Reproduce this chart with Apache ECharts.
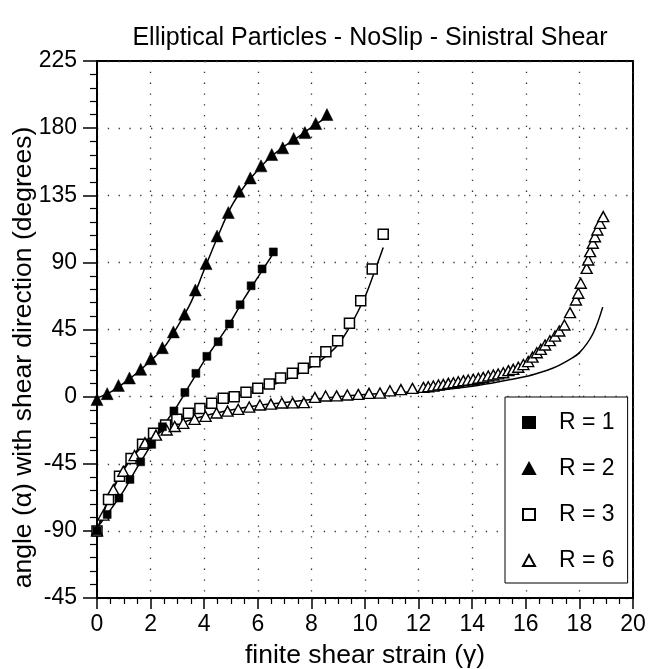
<!DOCTYPE html>
<html><head><meta charset="utf-8">
<script src="https://cdn.jsdelivr.net/npm/echarts@6/dist/echarts.min.js"></script>
<style>html,body{margin:0;padding:0;background:#fff}#c{width:648px;height:669px}</style>
</head><body><div id="c"></div>
<script>
// ---- data ----
const titleText = 'Elliptical Particles - NoSlip - Sinistral Shear';
const xName = 'finite shear strain (\u03b3)';
const yName = 'angle (\u03b1) with shear direction (degrees)';
const yTickValues = [-135, -90, -45, 0, 45, 90, 135, 180, 225];
const yTickLabels = ['-45', '-90', '-45', '0', '45', '90', '135', '180', '225'];
const legendNames = ['R = 1', 'R = 2', 'R = 3', 'R = 6'];

// R = 1 (filled squares)
const r1X = [0, 0.38, 0.82, 1.23, 1.63, 2.04, 2.44, 2.87, 3.28, 3.69, 4.10, 4.52, 4.94, 5.34, 5.75, 6.16, 6.58];
const r1Y = [-90, -79, -68, -55.5, -43.7, -32, -20.2, -9.6, 2.8, 15.6, 27, 36.8, 48.7, 61.6, 74.3, 85.6, 97];
// R = 2 (filled triangles)
const r2X = [0, 0.38, 0.80, 1.21, 1.63, 2.01, 2.44, 2.85, 3.27, 3.67, 4.07, 4.48, 4.90, 5.30, 5.72, 6.12, 6.52, 6.93, 7.34, 7.76, 8.16, 8.58];
const r2Y = [-2, 2, 7.5, 12.5, 18.3, 25.4, 32.8, 43.4, 55.3, 71.5, 89.2, 107.7, 123.4, 137.7, 146.6, 154.7, 162.3, 166.8, 173, 177, 183.1, 189.1];
// R = 3 (open squares)
const r3X = [0, 0.43, 0.84, 1.27, 1.70, 2.11, 2.56, 2.98, 3.41, 3.84, 4.28, 4.71, 5.12, 5.56, 6.00, 6.43, 6.85, 7.29, 7.70, 8.13, 8.54, 8.98, 9.42, 9.84, 10.27, 10.68];
const r3Y = [-90, -69, -53.3, -41.4, -32, -24.6, -19, -15.2, -11.2, -7.9, -4.5, -1.1, 0, 2.9, 5.6, 8.5, 12.5, 15.6, 19, 23.4, 30.1, 37.5, 49.2, 64.3, 85.6, 108.9];
// R = 6 (open triangles)
const r6X = [0, 0.24, 0.61, 0.98, 1.40, 1.79, 2.20, 2.60, 2.90, 3.22, 3.64, 4.05, 4.46, 4.87, 5.27, 5.68, 6.08, 6.49, 6.90, 7.30, 7.72, 8.13, 8.53, 8.94, 9.34, 9.75, 10.15, 10.56, 10.93, 11.34, 11.77,
  12.18, 12.36, 12.55, 12.74, 12.92, 13.11, 13.30, 13.48, 13.67, 13.85, 14.04, 14.23, 14.41, 14.60, 14.79, 14.97, 15.16, 15.35, 15.53, 15.72, 15.91, 16.09, 16.25, 16.41, 16.56, 16.72, 16.90, 17.09, 17.25, 17.44, 17.65, 17.87, 17.96, 18.05, 18.27, 18.33, 18.40, 18.50, 18.58, 18.67, 18.77, 18.89];
const r6Y = [-90, -79.4, -62.4, -50, -39.5, -31, -25.8, -22.4, -20, -17.9, -15.2, -13.2, -11, -9.7, -8.5, -7, -5.6, -5, -4.3, -4.2, -4, -0.5, 0.4, 0.5, 1.1, 1.5, 2.2, 2.4, 3.9, 4.7, 5.5,
  6.2, 6.6, 7.1, 7.8, 8.2, 8.9, 9.3, 10.0, 10.7, 11.1, 11.6, 12.3, 12.9, 13.8, 14.5, 15.2, 16.0, 17.4, 18.3, 19.7, 21.5, 23.5, 26.5, 29.4, 31.7, 34.6, 37.5, 40.6, 44, 48, 56.3, 64.8, 69.3, 76, 86, 91.6, 97.2, 102.8, 107.2, 111.7, 116.2, 120.7];

// fitted curves
const f1X = [0, 0.5, 1, 1.5, 2, 2.5, 3, 3.5, 4, 4.5, 5, 5.5, 6, 6.58];
const f1Y = [-88, -76, -63, -47.5, -33, -19, -6, 9, 24, 37, 50.5, 66, 80, 96];
const f2X = [0, 0.5, 1, 1.5, 2, 2.5, 3, 3.5, 4, 4.5, 5, 5.5, 6, 6.5, 7, 7.5, 8, 8.55];
const f2Y = [-1, 3, 9, 16, 24, 33, 47, 63, 85, 107, 127, 141, 152, 161, 168, 174, 180.5, 187];
const f3X = [0, 0.5, 1, 1.5, 2, 2.5, 3, 4, 5, 6, 7, 8, 8.5, 9, 9.5, 10, 10.3, 10.68];
const f3Y = [-90, -65, -48, -36, -27, -20, -15, -7, -1, 4.5, 11, 20, 26.5, 35, 49, 67, 81, 100];
const f6X = [0, 0.3, 0.6, 1, 1.5, 2, 2.5, 3, 4, 5, 6, 7, 8, 9, 10, 11, 12, 13, 14, 15, 16, 16.5, 17, 17.5, 18, 18.5, 18.87];
const f6Y = [-90, -75, -62, -49, -37, -28.5, -22.5, -18.5, -13, -9, -6, -4, -2, 0, 1.5, 2.5, 3.5, 4.8, 7, 10, 13.5, 16, 19, 23.5, 29.5, 42, 60];

const zip = (xs, ys) => xs.map((x, i) => [x, ys[i]]);
const FONT = "'Liberation Sans', Arial, sans-serif";

const chart = echarts.init(document.getElementById('c'), null, {renderer: 'canvas'});

const lineSeries = (name, xs, ys) => ({
  name, type: 'line', data: zip(xs, ys), smooth: 0.35, showSymbol: false, symbol: 'none',
  lineStyle: {color: '#000', width: 1.5}, silent: true, z: 2
});

chart.setOption({
  animation: false,
  backgroundColor: '#fff',
  title: {
    text: titleText, left: 365, top: 21, textAlign: 'center',
    textStyle: {fontFamily: FONT, fontSize: 25, fontWeight: 'normal', color: '#000'}
  },
  grid: {left: 97, right: 15, top: 61, bottom: 71, show: true, borderColor: '#000', borderWidth: 2,
         backgroundColor: 'transparent', containLabel: false, outerBoundsMode: 'none'},
  legend: {
    data: legendNames, orient: 'vertical', left: 505, top: 397,
    padding: [14, 13, 11, 17], itemGap: 23, itemWidth: 12, itemHeight: 11,
    backgroundColor: '#fff', borderColor: '#000', borderWidth: 1, borderRadius: 0,
    textStyle: {fontFamily: FONT, fontSize: 23, color: '#000', padding: [0, 0, 0, 19]}
  },
  xAxis: {
    type: 'value', min: 0, max: 20, interval: 2,
    name: xName, nameLocation: 'middle', nameGap: 44, nameMoveOverlap: false,
    nameTextStyle: {fontFamily: FONT, fontSize: 26.5, color: '#000'},
    axisLine: {show: true, onZero: false, lineStyle: {color: '#000', width: 2}},
    axisTick: {show: true, inside: false, length: 11, lineStyle: {color: '#000', width: 1.5}},
    minorTick: {show: true, splitNumber: 4, length: 6, lineStyle: {color: '#000', width: 1.2}},
    axisLabel: {fontFamily: FONT, fontSize: 23, color: '#000', margin: 15},
    splitLine: {show: true, lineStyle: {color: '#333', width: 1.3, type: [1.3, 9.5]}},
    minorSplitLine: {show: false}
  },
  yAxis: {
    type: 'value', min: -135, max: 225, interval: 45,
    name: yName, nameLocation: 'middle', nameGap: 60, nameRotate: 90, nameMoveOverlap: false,
    nameTextStyle: {fontFamily: FONT, fontSize: 26.5, color: '#000', padding: [0, 56, 0, 0]},
    axisLine: {show: true, onZero: false, lineStyle: {color: '#000', width: 2}},
    axisTick: {show: true, inside: false, length: 14, lineStyle: {color: '#000', width: 1.5}},
    minorTick: {show: true, splitNumber: 5, length: 7, lineStyle: {color: '#000', width: 1.2}},
    axisLabel: {
      fontFamily: FONT, fontSize: 23, color: '#000', margin: 20,
      formatter: v => { const i = yTickValues.indexOf(v); return i >= 0 ? yTickLabels[i] : ''; }
    },
    splitLine: {show: true, lineStyle: {color: '#333', width: 1.3, type: [1.3, 9.5]}},
    minorSplitLine: {show: false}
  },
  series: [
    lineSeries('fit1', f1X, f1Y),
    lineSeries('fit2', f2X, f2Y),
    lineSeries('fit3', f3X, f3Y),
    lineSeries('fit6', f6X, f6Y),
    {name: 'R = 1', type: 'scatter', data: zip(r1X, r1Y), symbol: 'rect', symbolSize: 8,
     itemStyle: {color: '#000', borderColor: '#000', borderWidth: 0.5, opacity: 1}, z: 5},
    {name: 'R = 2', type: 'scatter', data: zip(r2X, r2Y), symbol: 'triangle', symbolSize: [12, 12],
     itemStyle: {color: '#000', borderColor: '#000', borderWidth: 0.5, opacity: 1}, z: 5},
    {name: 'R = 3', type: 'scatter', data: zip(r3X, r3Y), symbol: 'rect', symbolSize: 10,
     itemStyle: {color: '#fff', borderColor: '#000', borderWidth: 1.5, opacity: 1}, z: 4},
    {name: 'R = 6', type: 'scatter', data: zip(r6X, r6Y), symbol: 'triangle', symbolSize: [11, 10],
     itemStyle: {color: '#fff', borderColor: '#000', borderWidth: 1.4, opacity: 1}, z: 4}
  ]
});
</script>
</body></html>
